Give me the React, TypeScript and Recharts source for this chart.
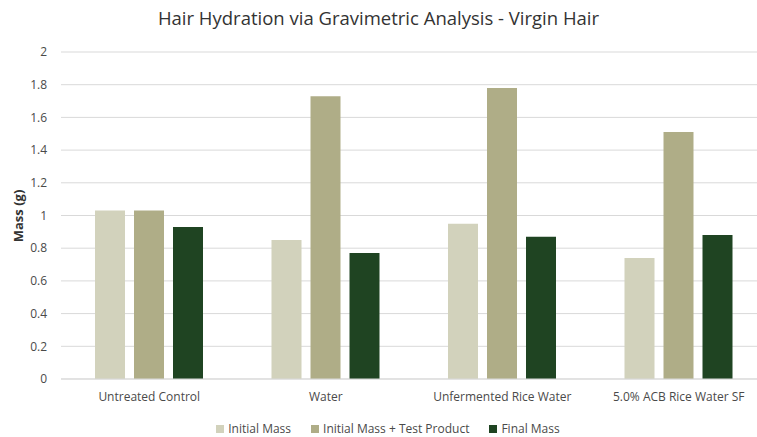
import React from 'react';
import { BarChart, Bar, XAxis, YAxis, CartesianGrid, Legend } from 'recharts';

const categories = ['Untreated Control', 'Water', 'Unfermented Rice Water', '5.0% ACB Rice Water SF'];
const initialMass = [1.03, 0.85, 0.95, 0.74];
const initialPlusProduct = [1.03, 1.73, 1.78, 1.51];
const finalMass = [0.93, 0.77, 0.87, 0.88];
const yTicks = [0, 0.2, 0.4, 0.6, 0.8, 1, 1.2, 1.4, 1.6, 1.8, 2];

const seriesNames = ['Initial Mass', 'Initial Mass + Test Product', 'Final Mass'];
const seriesColors = ['#D2D2BC', '#AFAD87', '#1F4422'];

const data = categories.map((c, i) => ({
  name: c,
  a: initialMass[i],
  b: initialPlusProduct[i],
  c: finalMass[i],
}));

const FONT = '"Open Sans", sans-serif';

const LegendContent = () => (
  <div
    style={{
      height: 24,
      display: 'flex',
      justifyContent: 'center',
      alignItems: 'flex-end',
      fontFamily: FONT,
      fontSize: 12,
      color: '#4a4a4a',
      lineHeight: '14px',
      transform: 'translateY(3px)',
    }}
  >
    {seriesNames.map((n, i) => (
      <div key={n} style={{ display: 'flex', alignItems: 'center', marginRight: i < 2 ? 20 : 0 }}>
        <span style={{ width: 8, height: 8, background: seriesColors[i], display: 'inline-block', marginRight: 4 }} />
        <span>{n}</span>
      </div>
    ))}
  </div>
);

export default function App() {
  return (
    <div style={{ position: 'absolute', left: 0, top: 0, width: 757, height: 437, overflow: 'hidden', background: '#fff' }}>
      <div
        style={{
          position: 'absolute',
          left: 0,
          width: 757,
          top: 5,
          textAlign: 'center',
          fontFamily: FONT,
          fontSize: 18.5,
          color: '#333333',
        }}
      >
        Hair Hydration via Gravimetric Analysis - Virgin Hair
      </div>
      <BarChart
        width={780}
        height={437}
        data={data}
        margin={{ top: 52, right: 13, bottom: 4, left: 0 }}
        barSize={30}
        barGap={9}
      >
        <CartesianGrid vertical={false} stroke="#D9D9D9" />
        <XAxis
          dataKey="name"
          axisLine={{ stroke: '#D9D9D9' }}
          tickLine={false}
          tickMargin={7}
          height={30}
          tick={{ fontFamily: FONT, fontSize: 12, fill: '#4a4a4a' }}
          interval={0}
        />
        <YAxis
          width={61}
          domain={[0, 2]}
          ticks={yTicks}
          axisLine={false}
          tickLine={false}
          tickMargin={8}
          tick={{ fontFamily: FONT, fontSize: 12, fill: '#4a4a4a' }}
          label={{
            content: () => (
              <text
                x={18}
                y={216}
                transform="rotate(-90 18 216)"
                textAnchor="middle"
                dominantBaseline="central"
                style={{ fontFamily: FONT, fontSize: 13, fontWeight: 700, fill: '#333333' }}
              >
                Mass (g)
              </text>
            ),
          }}
        />
        <Legend verticalAlign="bottom" content={<LegendContent />} wrapperStyle={{ left: 0, width: 776 }} />
        <Bar dataKey="a" name={seriesNames[0]} fill={seriesColors[0]} isAnimationActive={false} />
        <Bar dataKey="b" name={seriesNames[1]} fill={seriesColors[1]} isAnimationActive={false} />
        <Bar dataKey="c" name={seriesNames[2]} fill={seriesColors[2]} isAnimationActive={false} />
      </BarChart>
    </div>
  );
}
